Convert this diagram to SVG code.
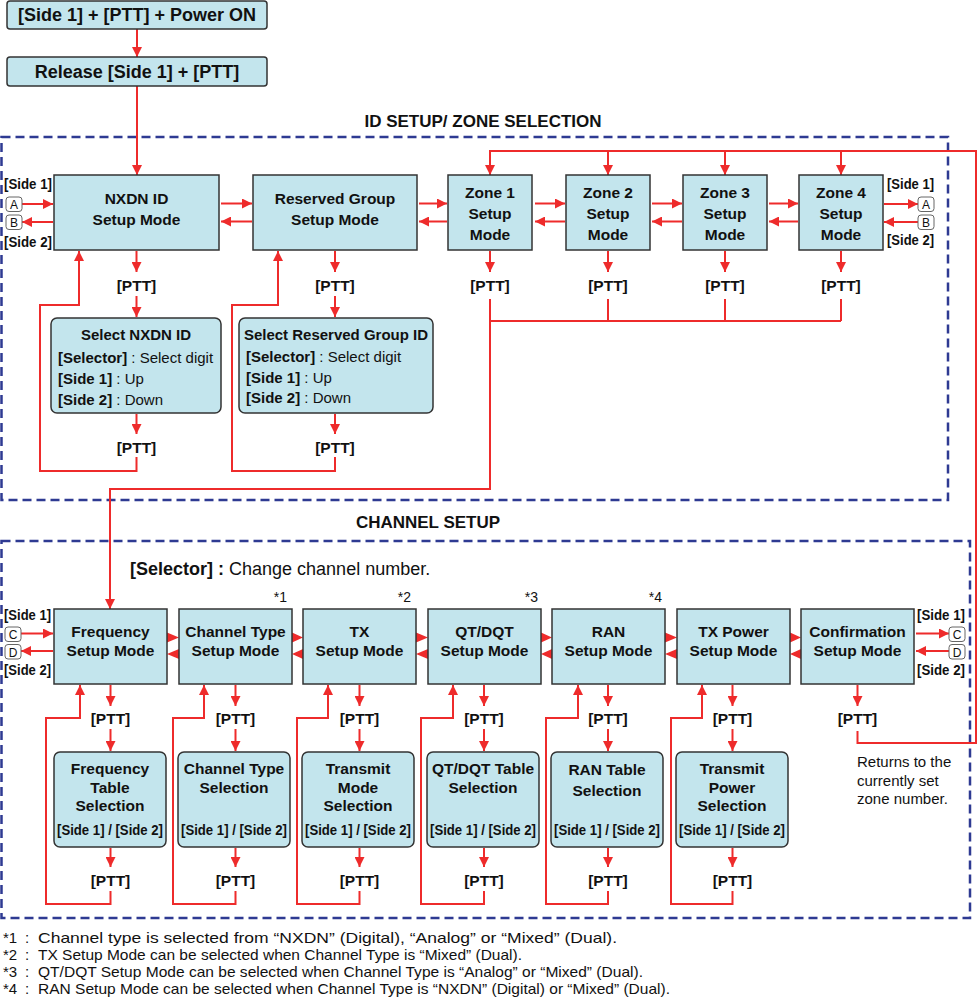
<svg xmlns="http://www.w3.org/2000/svg" width="978" height="1002" viewBox="0 0 978 1002">
<style>
.box{fill:#c3e5ed;stroke:#333;stroke-width:1.5}
text{font-family:"Liberation Sans",Arial,sans-serif;fill:#111}
.b{font-weight:bold}
.c{text-anchor:middle}
.e{text-anchor:end}
.m{font-size:15.5px;font-weight:bold;text-anchor:middle}
.p{font-size:15.5px;font-weight:bold;text-anchor:middle}
.s{font-size:14.5px;font-weight:bold}
.ss{font-size:14.5px;font-weight:bold;text-anchor:middle}
.w{stroke:#ee2b2b;stroke-width:2;fill:none}
.wa{stroke:#ee2b2b;stroke-width:2;fill:none;marker-end:url(#ah)}
.tri{fill:#ee2b2b}
.dash{fill:none;stroke:#2e3a92;stroke-width:2.5;stroke-dasharray:9 5}
.key{fill:#fff;stroke:#666;stroke-width:1}
.kt{font-size:12px;text-anchor:middle}
.fn{font-size:15px}
</style>
<defs>
<marker id="ah" viewBox="0 0 10 10" refX="10" refY="5" markerWidth="10" markerHeight="10" markerUnits="userSpaceOnUse" orient="auto"><path d="M0,0 L10,5 L0,10 z" fill="#ee2b2b"/></marker>
</defs>

<g id="frame-id">
<rect class="dash" x="1.5" y="137" width="946.5" height="363"/>
<text class="b c" x="483" y="127" font-size="17">ID SETUP/ ZONE SELECTION</text>
</g>
<g id="frame-channel">
<rect class="dash" x="1.5" y="541" width="968.5" height="377"/>
<text class="b c" x="428" y="528" font-size="17">CHANNEL SETUP</text>
<text x="130" y="575" font-size="18"><tspan class="b">[Selector] :</tspan> Change channel number.</text>
</g>

<g id="connectors">
<path class="wa" d="M137,29 V57"/>
<path class="wa" d="M137,86 V175"/>
<path class="wa" d="M221,203.5 H252"/><path class="wa" d="M252,221.5 H221"/>
<path class="wa" d="M419,203.5 H447"/><path class="wa" d="M447,221.5 H419"/>
<path class="wa" d="M535,203.5 H565"/><path class="wa" d="M565,221.5 H535"/>
<path class="wa" d="M652,203.5 H682"/><path class="wa" d="M682,221.5 H652"/>
<path class="wa" d="M769,203.5 H798"/><path class="wa" d="M798,221.5 H769"/>
<path class="wa" d="M22,204 H53"/><path class="wa" d="M53,222 H22"/>
<path class="wa" d="M884,204 H918"/><path class="wa" d="M918,222 H884"/>
<path class="wa" d="M857.5,731 V743 H976 V151 H490 V175"/>
<path class="wa" d="M608,151 V175"/>
<path class="wa" d="M725,151 V175"/>
<path class="wa" d="M841,151 V175"/>
<path class="wa" d="M490,251 V272"/>
<path class="wa" d="M608,251 V272"/>
<path class="wa" d="M725,251 V272"/>
<path class="wa" d="M841,251 V272"/>
<path class="w" d="M608,299 V321 M725,299 V321 M841,299 V321 M490,321 H841"/>
<path class="wa" d="M490,299 V489 H110 V609"/>
<path class="wa" d="M136.5,251 V272"/>
<path class="wa" d="M136.5,296 V317"/>
<path class="wa" d="M136.5,414 V434"/>
<path class="wa" d="M136.5,457 V471 H40 V305 H79 V251"/>
<path class="wa" d="M335,251 V272"/>
<path class="wa" d="M335,296 V317"/>
<path class="wa" d="M335,414 V434"/>
<path class="wa" d="M335,457 V471 H232 V305 H278 V251"/>
<path class="wa" d="M21,633.5 H53"/><path class="wa" d="M53,651 H21"/>
<path class="wa" d="M916,633.5 H949"/><path class="wa" d="M949,651 H916"/>
<polygon class="tri" points="167,632.5 179,637.5 167,642.5"/><polygon class="tri" points="179,649 167,654 179,659"/>
<polygon class="tri" points="292,632.5 303,637.5 292,642.5"/><polygon class="tri" points="303,649 292,654 303,659"/>
<polygon class="tri" points="416,632.5 428,637.5 416,642.5"/><polygon class="tri" points="428,649 416,654 428,659"/>
<polygon class="tri" points="541,632.5 552,637.5 541,642.5"/><polygon class="tri" points="552,649 541,654 552,659"/>
<polygon class="tri" points="665,632.5 677,637.5 665,642.5"/><polygon class="tri" points="677,649 665,654 677,659"/>
<polygon class="tri" points="790,632.5 801,637.5 790,642.5"/><polygon class="tri" points="801,649 790,654 801,659"/>
<path class="wa" d="M110.5,685 V706"/><path class="wa" d="M110.5,729 V751"/><path class="wa" d="M110.5,848 V867"/><path class="wa" d="M110.5,891 V904 H46 V718 H80 V685"/>
<path class="wa" d="M235.5,685 V706"/><path class="wa" d="M235.5,729 V751"/><path class="wa" d="M235.5,848 V867"/><path class="wa" d="M235.5,891 V904 H173 V718 H204 V685"/>
<path class="wa" d="M359.5,685 V706"/><path class="wa" d="M359.5,729 V751"/><path class="wa" d="M359.5,848 V867"/><path class="wa" d="M359.5,891 V904 H297 V718 H328 V685"/>
<path class="wa" d="M484,685 V706"/><path class="wa" d="M484,729 V751"/><path class="wa" d="M484,848 V867"/><path class="wa" d="M484,891 V904 H421 V718 H453 V685"/>
<path class="wa" d="M608,685 V706"/><path class="wa" d="M608,729 V751"/><path class="wa" d="M608,848 V867"/><path class="wa" d="M608,891 V904 H546 V718 H578 V685"/>
<path class="wa" d="M732.5,685 V706"/><path class="wa" d="M732.5,729 V751"/><path class="wa" d="M732.5,848 V867"/><path class="wa" d="M732.5,891 V904 H671 V718 H702 V685"/>
<path class="wa" d="M857.5,685 V706"/>
</g>

<g id="ptt-labels">
<text class="p" x="136.5" y="291">[PTT]</text>
<text class="p" x="136.5" y="453">[PTT]</text>
<text class="p" x="335" y="291">[PTT]</text>
<text class="p" x="335" y="453">[PTT]</text>
<text class="p" x="490" y="291">[PTT]</text>
<text class="p" x="608" y="291">[PTT]</text>
<text class="p" x="725" y="291">[PTT]</text>
<text class="p" x="841" y="291">[PTT]</text>
<text class="p" x="110.5" y="724">[PTT]</text><text class="p" x="110.5" y="886">[PTT]</text>
<text class="p" x="235.5" y="724">[PTT]</text><text class="p" x="235.5" y="886">[PTT]</text>
<text class="p" x="359.5" y="724">[PTT]</text><text class="p" x="359.5" y="886">[PTT]</text>
<text class="p" x="484" y="724">[PTT]</text><text class="p" x="484" y="886">[PTT]</text>
<text class="p" x="608" y="724">[PTT]</text><text class="p" x="608" y="886">[PTT]</text>
<text class="p" x="732.5" y="724">[PTT]</text><text class="p" x="732.5" y="886">[PTT]</text>
<text class="p" x="857.5" y="724">[PTT]</text>
</g>

<g id="keys-id">
<text class="s" x="4" y="189" textLength="48" lengthAdjust="spacingAndGlyphs">[Side 1]</text>
<rect class="key" x="6" y="197" width="16" height="14.5" rx="3"/><text class="kt" x="14" y="209">A</text>
<rect class="key" x="6" y="215" width="16" height="14.5" rx="3"/><text class="kt" x="14" y="227">B</text>
<text class="s" x="4" y="247" textLength="48" lengthAdjust="spacingAndGlyphs">[Side 2]</text>
<text class="s" x="887" y="189" textLength="47" lengthAdjust="spacingAndGlyphs">[Side 1]</text>
<rect class="key" x="918" y="197" width="16" height="14.5" rx="3"/><text class="kt" x="926" y="209">A</text>
<rect class="key" x="918" y="215" width="16" height="14.5" rx="3"/><text class="kt" x="926" y="227">B</text>
<text class="s" x="887" y="245" textLength="47" lengthAdjust="spacingAndGlyphs">[Side 2]</text>
</g>
<g id="keys-channel">
<text class="s" x="4" y="620" textLength="47" lengthAdjust="spacingAndGlyphs">[Side 1]</text>
<rect class="key" x="5" y="627" width="16" height="14.5" rx="3"/><text class="kt" x="13" y="639">C</text>
<rect class="key" x="5" y="644.5" width="16" height="14.5" rx="3"/><text class="kt" x="13" y="656.5">D</text>
<text class="s" x="4" y="675" textLength="47" lengthAdjust="spacingAndGlyphs">[Side 2]</text>
<text class="s" x="917" y="620" textLength="48" lengthAdjust="spacingAndGlyphs">[Side 1]</text>
<rect class="key" x="949" y="627" width="16" height="14.5" rx="3"/><text class="kt" x="957" y="639">C</text>
<rect class="key" x="949" y="644.5" width="16" height="14.5" rx="3"/><text class="kt" x="957" y="656.5">D</text>
<text class="s" x="917" y="675" textLength="48" lengthAdjust="spacingAndGlyphs">[Side 2]</text>
</g>

<g id="n-start">
<rect class="box" x="7" y="1" width="260" height="28" rx="3"/>
<text class="b c" x="137" y="21" font-size="18">[Side 1] + [PTT] + Power ON</text>
</g>
<g id="n-release">
<rect class="box" x="7" y="57" width="260" height="29" rx="3"/>
<text class="b c" x="137" y="78" font-size="18">Release [Side 1] + [PTT]</text>
</g>

<g id="n-nxdn">
<rect class="box" x="54" y="175" width="165" height="75"/>
<text class="m" x="136.5" y="204">NXDN ID</text>
<text class="m" x="136.5" y="225">Setup Mode</text>
</g>
<g id="n-reserved">
<rect class="box" x="253" y="175" width="164" height="75"/>
<text class="m" x="335" y="204">Reserved Group</text>
<text class="m" x="335" y="225">Setup Mode</text>
</g>
<g id="n-zone1">
<rect class="box" x="448" y="175" width="84" height="75"/>
<text class="m" x="490" y="198">Zone 1</text><text class="m" x="490" y="219">Setup</text><text class="m" x="490" y="240">Mode</text>
</g>
<g id="n-zone2">
<rect class="box" x="566" y="175" width="84" height="75"/>
<text class="m" x="608" y="198">Zone 2</text><text class="m" x="608" y="219">Setup</text><text class="m" x="608" y="240">Mode</text>
</g>
<g id="n-zone3">
<rect class="box" x="683" y="175" width="84" height="75"/>
<text class="m" x="725" y="198">Zone 3</text><text class="m" x="725" y="219">Setup</text><text class="m" x="725" y="240">Mode</text>
</g>
<g id="n-zone4">
<rect class="box" x="799" y="175" width="84" height="75"/>
<text class="m" x="841" y="198">Zone 4</text><text class="m" x="841" y="219">Setup</text><text class="m" x="841" y="240">Mode</text>
</g>

<g id="n-select-nxdn">
<rect class="box" x="51" y="318" width="170" height="95" rx="6"/>
<text class="b c" x="136" y="340" font-size="15">Select NXDN ID</text>
<text x="58" y="363" font-size="15"><tspan class="b">[Selector]</tspan> : Select digit</text>
<text x="58" y="384" font-size="15"><tspan class="b">[Side 1]</tspan> : Up</text>
<text x="58" y="405" font-size="15"><tspan class="b">[Side 2]</tspan> : Down</text>
</g>
<g id="n-select-reserved">
<rect class="box" x="239" y="318" width="194" height="95" rx="6"/>
<text class="b c" x="336" y="340" font-size="15">Select Reserved Group ID</text>
<text x="246" y="361.5" font-size="15"><tspan class="b">[Selector]</tspan> : Select digit</text>
<text x="246" y="382.5" font-size="15"><tspan class="b">[Side 1]</tspan> : Up</text>
<text x="246" y="402.5" font-size="15"><tspan class="b">[Side 2]</tspan> : Down</text>
</g>

<g id="n-frequency">
<rect class="box" x="54" y="609" width="113" height="75"/>
<text class="m" x="110.5" y="637">Frequency</text><text class="m" x="110.5" y="656">Setup Mode</text>
</g>
<g id="n-channel-type">
<rect class="box" x="179" y="609" width="113" height="75"/>
<text class="m" x="235.5" y="637">Channel Type</text><text class="m" x="235.5" y="656">Setup Mode</text>
<text class="e" x="287" y="602" font-size="14">*1</text>
</g>
<g id="n-tx">
<rect class="box" x="303" y="609" width="113" height="75"/>
<text class="m" x="359.5" y="637">TX</text><text class="m" x="359.5" y="656">Setup Mode</text>
<text class="e" x="411" y="602" font-size="14">*2</text>
</g>
<g id="n-qtdqt">
<rect class="box" x="428" y="609" width="113" height="75"/>
<text class="m" x="484.5" y="637">QT/DQT</text><text class="m" x="484.5" y="656">Setup Mode</text>
<text class="e" x="538" y="602" font-size="14">*3</text>
</g>
<g id="n-ran">
<rect class="box" x="552" y="609" width="113" height="75"/>
<text class="m" x="608.5" y="637">RAN</text><text class="m" x="608.5" y="656">Setup Mode</text>
<text class="e" x="662" y="602" font-size="14">*4</text>
</g>
<g id="n-txpower">
<rect class="box" x="677" y="609" width="113" height="75"/>
<text class="m" x="733.5" y="637">TX Power</text><text class="m" x="733.5" y="656">Setup Mode</text>
</g>
<g id="n-confirmation">
<rect class="box" x="801" y="609" width="113" height="75"/>
<text class="m" x="857.5" y="637">Confirmation</text><text class="m" x="857.5" y="656">Setup Mode</text>
</g>

<g id="n-freq-table">
<rect class="box" x="54" y="752" width="112" height="95" rx="6"/>
<text class="m" x="110" y="774">Frequency</text><text class="m" x="110" y="793">Table</text><text class="m" x="110" y="811">Selection</text>
<text class="ss" x="110" y="835" textLength="106" lengthAdjust="spacingAndGlyphs">[Side 1] / [Side 2]</text>
</g>
<g id="n-chtype-sel">
<rect class="box" x="178" y="752" width="112" height="95" rx="6"/>
<text class="m" x="234" y="774">Channel Type</text><text class="m" x="234" y="793">Selection</text>
<text class="ss" x="234" y="835" textLength="106" lengthAdjust="spacingAndGlyphs">[Side 1] / [Side 2]</text>
</g>
<g id="n-txmode-sel">
<rect class="box" x="302" y="752" width="112" height="95" rx="6"/>
<text class="m" x="358" y="774">Transmit</text><text class="m" x="358" y="793">Mode</text><text class="m" x="358" y="811">Selection</text>
<text class="ss" x="358" y="835" textLength="106" lengthAdjust="spacingAndGlyphs">[Side 1] / [Side 2]</text>
</g>
<g id="n-qtdqt-sel">
<rect class="box" x="427" y="752" width="112" height="95" rx="6"/>
<text class="m" x="483" y="774">QT/DQT Table</text><text class="m" x="483" y="793">Selection</text>
<text class="ss" x="483" y="835" textLength="106" lengthAdjust="spacingAndGlyphs">[Side 1] / [Side 2]</text>
</g>
<g id="n-ran-sel">
<rect class="box" x="551" y="752" width="112" height="95" rx="6"/>
<text class="m" x="607" y="775">RAN Table</text><text class="m" x="607" y="796">Selection</text>
<text class="ss" x="607" y="835" textLength="106" lengthAdjust="spacingAndGlyphs">[Side 1] / [Side 2]</text>
</g>
<g id="n-txpower-sel">
<rect class="box" x="676" y="752" width="112" height="95" rx="6"/>
<text class="m" x="732" y="774">Transmit</text><text class="m" x="732" y="793">Power</text><text class="m" x="732" y="811">Selection</text>
<text class="ss" x="732" y="835" textLength="106" lengthAdjust="spacingAndGlyphs">[Side 1] / [Side 2]</text>
</g>

<g id="note-return">
<text x="857" y="767" font-size="15">Returns to the</text>
<text x="857" y="786" font-size="15">currently set</text>
<text x="857" y="804" font-size="15">zone number.</text>
</g>

<g id="footnotes">
<text class="fn" y="943"><tspan x="3">*1</tspan><tspan x="25">:</tspan><tspan x="38" textLength="579" lengthAdjust="spacingAndGlyphs">Channel type is selected from “NXDN” (Digital), “Analog” or “Mixed” (Dual).</tspan></text>
<text class="fn" y="960"><tspan x="3">*2</tspan><tspan x="25">:</tspan><tspan x="38" textLength="484" lengthAdjust="spacingAndGlyphs">TX Setup Mode can be selected when Channel Type is “Mixed” (Dual).</tspan></text>
<text class="fn" y="977"><tspan x="3">*3</tspan><tspan x="25">:</tspan><tspan x="38" textLength="605" lengthAdjust="spacingAndGlyphs">QT/DQT Setup Mode can be selected when Channel Type is “Analog” or “Mixed” (Dual).</tspan></text>
<text class="fn" y="994"><tspan x="3">*4</tspan><tspan x="25">:</tspan><tspan x="38" textLength="632" lengthAdjust="spacingAndGlyphs">RAN Setup Mode can be selected when Channel Type is “NXDN” (Digital) or “Mixed” (Dual).</tspan></text>
</g>
</svg>
